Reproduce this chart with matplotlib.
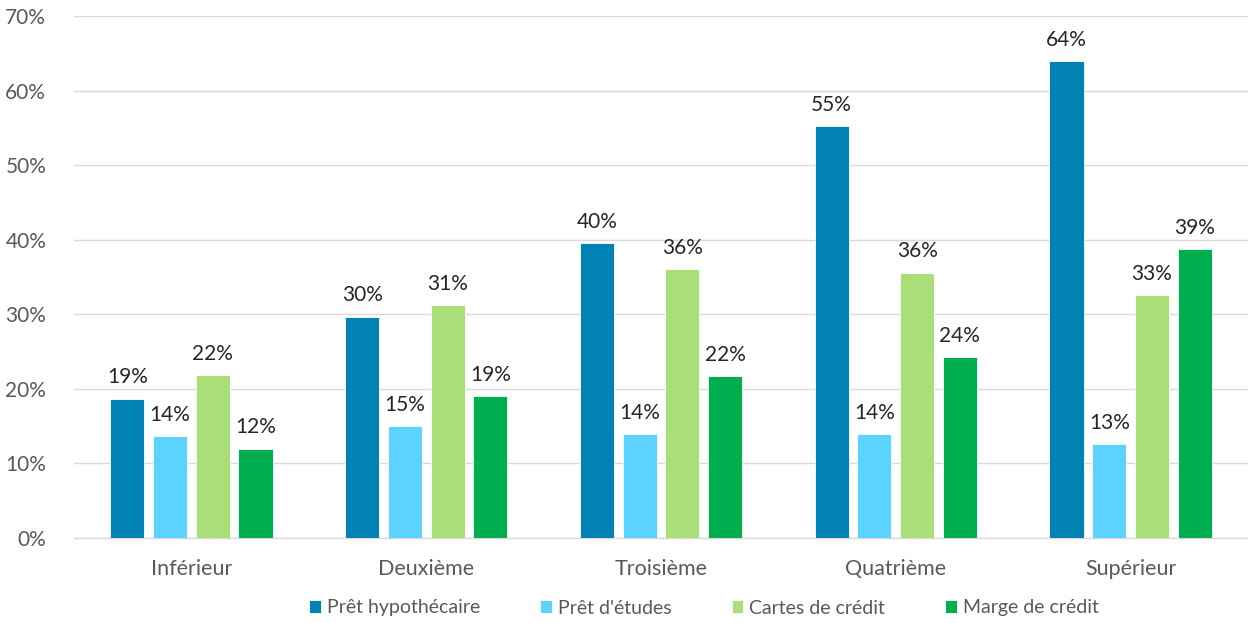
import matplotlib
matplotlib.use("Agg")
import matplotlib.pyplot as plt
import numpy as np
from matplotlib.ticker import FuncFormatter, MultipleLocator

plt.rcParams['font.family'] = ['Lato', 'DejaVu Sans']

categories = ["Inférieur", "Deuxième", "Troisième", "Quatrième", "Supérieur"]
series_names = ["Prêt hypothécaire", "Prêt d'études", "Cartes de crédit", "Marge de crédit"]
pret_hypothecaire = [18.7, 29.7, 39.6, 55.2, 63.9]
pret_etudes = [13.7, 15.0, 13.9, 13.9, 12.6]
cartes_credit = [21.9, 31.2, 36.1, 35.6, 32.6]
marge_credit = [12.0, 19.0, 21.7, 24.3, 38.7]
colors = ["#0082B4", "#5CD3FF", "#AADF78", "#00AE50"]

series = [pret_hypothecaire, pret_etudes, cartes_credit, marge_credit]

fig = plt.figure(figsize=(12.48, 6.23), dpi=100)
ax = fig.add_axes([74 / 1248, 1 - 538 / 623, 1 - 74 / 1248, (538 - 16) / 623])

x = np.arange(len(categories))
width = 0.145
pitch = 0.182
offsets = (np.arange(4) - 1.5) * pitch

for vals, name, col, off in zip(series, series_names, colors, offsets):
    bars = ax.bar(x + off, vals, width, color=col, label=name, zorder=3,
                  edgecolor="white", linewidth=0.6)
    for b, v in zip(bars, vals):
        ax.annotate(f"{round(v):.0f}%", (b.get_x() + b.get_width() / 2, v),
                    xytext=(0, 8), textcoords="offset points",
                    ha="center", va="bottom", fontsize=15, color="#262626")

ax.set_xlim(-0.5, 4.5)
ax.set_ylim(0, 70)
ax.yaxis.set_major_locator(MultipleLocator(10))
ax.yaxis.set_major_formatter(FuncFormatter(lambda v, p: f"{v:.0f}%"))
ax.set_xticks(x)
ax.set_xticklabels(categories)
ax.tick_params(axis="both", length=0, labelsize=15, colors="#595959")
ax.tick_params(axis="x", pad=15, labelsize=15.5)
ax.tick_params(axis="y", pad=20)
for lbl in ax.get_yticklabels():
    lbl.set_horizontalalignment("right")
ax.grid(axis="y", color="#D9D9D9", linewidth=1, zorder=0)
for s in ["top", "right", "left"]:
    ax.spines[s].set_visible(False)
ax.spines["bottom"].set_color("#D9D9D9")
ax.spines["bottom"].set_linewidth(1)

leg = fig.legend(loc="center", bbox_to_anchor=(0.564, 1 - 608 / 623), ncol=4,
                 frameon=False, fontsize=14, handlelength=0.6, handleheight=0.6,
                 handletextpad=0.3, columnspacing=3.1)
for t in leg.get_texts():
    t.set_color("#595959")

fig.savefig("out.png", dpi=100)
